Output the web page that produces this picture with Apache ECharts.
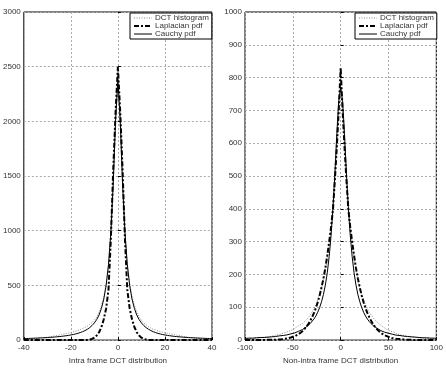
<!DOCTYPE html>
<html>
<head>
<meta charset="utf-8">
<script src="https://cdn.jsdelivr.net/npm/echarts@6/dist/echarts.min.js"></script>
<style>
  html, body { margin: 0; padding: 0; background: #fff; }
  #chart { width: 446px; height: 370px; }
</style>
</head>
<body>
<div id="chart"></div>
<script>
// intra frame (left panel), one point per integer coefficient
const intraX = [-40,-39,-38,-37,-36,-35,-34,-33,-32,-31,-30,-29,-28,-27,-26,-25,-24,-23,-22,-21,
  -20,-19,-18,-17,-16,-15,-14,-13,-12,-11,-10,-9,-8,-7,-6,-5,-4,-3,-2,-1,0,
  1,2,3,4,5,6,7,8,9,10,11,12,13,14,15,16,17,18,19,20,
  21,22,23,24,25,26,27,28,29,30,31,32,33,34,35,36,37,38,39,40];
const intraHist = [5,6,8,9,11,13,15,18,21,24,27,30,34,38,42,46,50,55,60,64,
  70,75,82,88,96,106,116,128,142,160,182,212,255,315,395,510,690,990,1470,2020,2450,
  2050,1450,1000,700,520,400,320,260,215,180,155,138,122,110,98,92,84,78,72,66,
  62,58,54,49,45,41,37,33,29,26,23,20,17,15,13,11,9,8,7,6];
const intraLaplace = [0,0,0,0,0,0,0,0,0,0,0,0,0,0,0,0,0,0,0,0,
  0,0,0,0,0,0,1,2,5,11,22,42,72,120,190,290,460,920,1550,2080,2500,
  2080,1550,920,460,290,190,120,72,42,22,11,5,2,1,0,0,0,0,0,0,
  0,0,0,0,0,0,0,0,0,0,0,0,0,0,0,0,0,0,0,0];
const intraCauchy = [14,14,15,16,17,18,19,20,21,22,23,25,26,28,30,32,34,37,40,43,
  47,51,56,62,69,77,87,99,114,133,157,188,230,290,375,500,690,980,1420,2000,2380,
  2000,1420,980,690,500,375,290,230,188,157,133,114,99,87,77,69,62,56,51,47,
  43,40,37,34,32,30,28,26,25,23,22,21,20,19,18,17,16,15,14,14];

// non-intra frame (right panel), every second coefficient
const interX = [-100,-98,-96,-94,-92,-90,-88,-86,-84,-82,-80,-78,-76,-74,-72,-70,-68,-66,-64,-62,
  -60,-58,-56,-54,-52,-50,-48,-46,-44,-42,-40,-38,-36,-34,-32,-30,-28,-26,-24,-22,
  -20,-18,-16,-14,-12,-10,-8,-6,-4,-2,0,
  2,4,6,8,10,12,14,16,18,20,22,24,26,28,30,32,34,36,38,40,
  42,44,46,48,50,52,54,56,58,60,62,64,66,68,70,72,74,76,78,80,
  82,84,86,88,90,92,94,96,98,100];
const interHist = [4,3,4,5,5,6,6,7,7,8,9,10,10,11,12,13,15,16,17,19,
  21,23,25,27,29,33,36,40,44,47,50,55,61,68,76,85,96,108,122,142,
  162,185,212,248,292,340,415,500,590,700,800,
  690,600,500,410,345,295,250,214,184,160,140,122,108,96,85,76,68,61,55,50,
  45,41,39,33,30,27,25,24,20,18,15,15,14,13,12,11,10,9,9,8,
  7,7,6,6,5,5,4,4,4,3];
const interLaplace = [0,0,0,0,0,0,0,0,0,0,0,0,1,1,1,1,1,2,2,3,
  3,4,5,6,8,10,12,15,18,22,27,33,40,48,58,69,82,97,115,136,
  160,188,220,258,300,345,400,490,590,700,830,
  700,590,490,400,345,300,258,220,188,160,136,115,97,82,69,58,48,40,33,27,
  22,18,15,12,10,8,6,5,4,3,3,2,2,1,1,1,1,1,0,0,
  0,0,0,0,0,0,0,0,0,0];
const interCauchy = [5,6,6,6,6,7,7,7,8,8,8,9,9,10,10,11,11,12,13,14,
  14,15,16,18,19,21,22,24,27,29,32,36,40,44,50,56,64,73,85,99,
  117,139,168,205,255,320,405,510,630,730,770,
  730,630,510,405,320,255,205,168,139,117,99,85,73,64,56,50,44,40,36,32,
  29,27,24,22,21,19,18,16,15,14,14,13,12,11,11,10,10,9,9,8,
  8,8,7,7,7,6,6,6,6,5];

const pairs = (xs, ys) => xs.map((x, i) => [x, ys[i]]);

const font = 'Liberation Sans';
const textColor = '#333';

function xAxisFor(idx, min, max, interval, name) {
  return {
    type: 'value', gridIndex: idx, min: min, max: max, interval: interval,
    name: name, nameLocation: 'middle', nameGap: 14,
    nameTextStyle: { fontSize: 8, color: textColor, fontFamily: font },
    axisLine: { show: false },
    axisTick: { inside: true, length: 3, lineStyle: { color: '#000' } },
    axisLabel: { fontSize: 8, color: textColor, fontFamily: font, margin: 4, formatter: v => String(v) },
    splitLine: { lineStyle: { color: '#aaa', type: [2, 2] } }
  };
}
function yAxisFor(idx, max, interval) {
  return {
    type: 'value', gridIndex: idx, min: 0, max: max, interval: interval,
    axisLine: { show: false },
    axisTick: { inside: true, length: 3, lineStyle: { color: '#000' } },
    axisLabel: { fontSize: 8, color: textColor, fontFamily: font, margin: 3, formatter: v => String(v) },
    splitLine: { lineStyle: { color: '#aaa', type: [2, 2] } }
  };
}

function seriesFor(idx, xs, hist, lap, cau) {
  return [
    { name: 'DCT histogram', type: 'line', xAxisIndex: idx, yAxisIndex: idx, symbol: 'none',
      data: pairs(xs, hist), lineStyle: { color: '#888', width: 1, type: [1, 1.5] }, itemStyle: { color: '#888' } },
    { name: 'Laplacian pdf', type: 'line', xAxisIndex: idx, yAxisIndex: idx, symbol: 'none',
      data: pairs(xs, lap), lineStyle: { color: '#000', width: 2, type: [5, 2, 2, 2] }, itemStyle: { color: '#000' } },
    { name: 'Cauchy pdf', type: 'line', xAxisIndex: idx, yAxisIndex: idx, symbol: 'none',
      data: pairs(xs, cau), lineStyle: { color: '#000', width: 1 }, itemStyle: { color: '#000' } }
  ];
}

function legendAt(left) {
  return {
    orient: 'vertical', left: left, top: 13, itemGap: 0, itemWidth: 18, itemHeight: 8,
    padding: [1, 3, 1, 3], borderColor: '#000', borderWidth: 1, backgroundColor: '#fff',
    itemStyle: { opacity: 0 },
    textStyle: { fontSize: 8, color: textColor, fontFamily: font, padding: [0, 0, 0, -2] },
    data: [
      { name: 'DCT histogram', lineStyle: { width: 1 } },
      { name: 'Laplacian pdf', lineStyle: { width: 2 } },
      { name: 'Cauchy pdf', lineStyle: { width: 1 } }
    ]
  };
}

const chart = echarts.init(document.getElementById('chart'));
chart.setOption({
  animation: false,
  backgroundColor: '#fff',
  legend: [legendAt(130), legendAt(355)],
  grid: [
    { left: 21, top: 12, width: 191, height: 337, show: true, borderColor: '#000', borderWidth: 1, backgroundColor: '#fff' },
    { left: 245, top: 12, width: 192, height: 337, show: true, borderColor: '#000', borderWidth: 1, backgroundColor: '#fff' }
  ],
  xAxis: [
    xAxisFor(0, -40, 40, 20, 'Intra frame DCT distribution'),
    xAxisFor(1, -100, 100, 50, 'Non-intra frame DCT distribution')
  ],
  yAxis: [yAxisFor(0, 3000, 500), yAxisFor(1, 1000, 100)],
  series: seriesFor(0, intraX, intraHist, intraLaplace, intraCauchy)
    .concat(seriesFor(1, interX, interHist, interLaplace, interCauchy))
});
</script>
</body>
</html>
